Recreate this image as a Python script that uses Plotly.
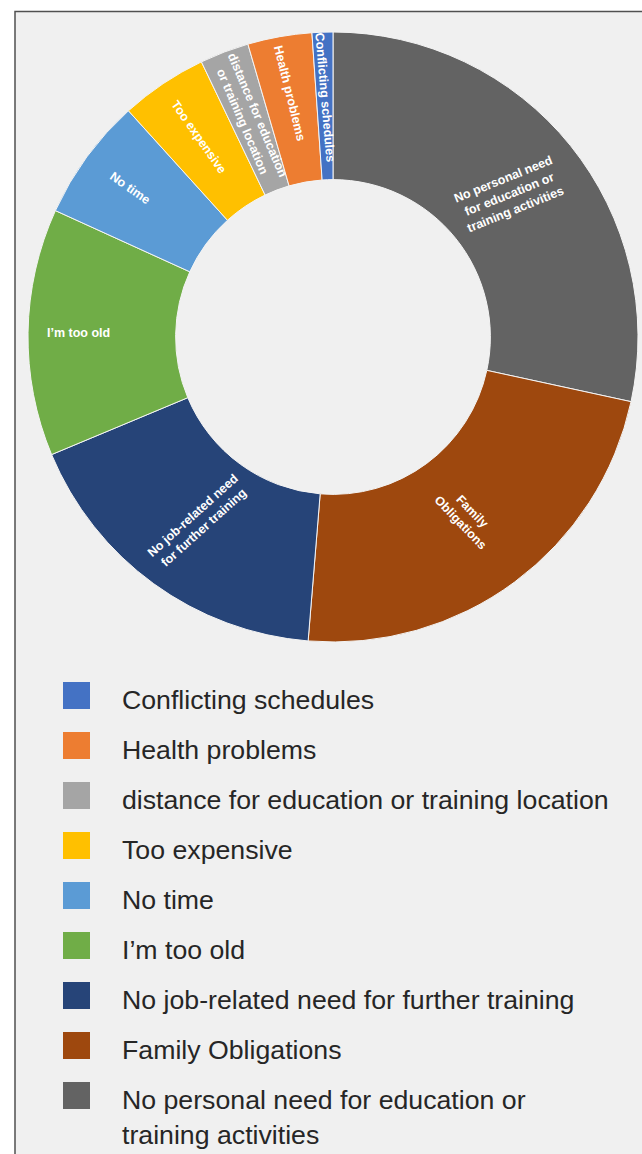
import math

import plotly.graph_objects as go

# categories, in legend order (on the ring they run counter-clockwise from 12 o'clock)
labels = [
    "Conflicting schedules",
    "Health problems",
    "distance for education or training location",
    "Too expensive",
    "No time",
    "I’m too old",
    "No job-related need for further training",
    "Family Obligations",
    "No personal need for education or training activities",
]
slice_text = [
    "Conflicting schedules",
    "Health problems",
    "distance for education<br>or training location",
    "Too expensive",
    "No time",
    "I’m too old",
    "No job-related need<br>for further training",
    "Family<br>Obligations",
    "No personal need<br>for education or<br>training activities",
]
legend_text = [
    "Conflicting schedules",
    "Health problems",
    "distance for education or training location",
    "Too expensive",
    "No time",
    "I’m too old",
    "No job-related need for further training",
    "Family Obligations",
    "No personal need for education or<br>training activities",
]
shares = [1.1, 3.4, 2.6, 4.6, 6.5, 13.1, 17.4, 22.9, 28.4]
colors = [
    "#4472C4", "#ED7D31", "#A5A5A5", "#FFC000", "#5B9BD5",
    "#70AD47", "#264478", "#9E480E", "#636363",
]
# white slice labels: rotation (degrees, clockwise) and distance from centre (px)
label_rotation = [85, 76, 67, 55, 35, 0, -42, 46, -22]
label_radius = [240, 248, 234, 241, 252, 255, 228, 224, 227]

W, H = 642, 1154
BG = "#f0f0f0"
FONT = "Arial, Liberation Sans, sans-serif"

# donut geometry (pixels)
cx, cy, r = 333, 337, 305
hole = 0.516

fig = go.Figure()

# drawn clockwise from 12 o'clock with the order reversed, so the first
# legend entry sits just left of the top
fig.add_trace(
    go.Pie(
        labels=labels[::-1],
        values=shares[::-1],
        textinfo="none",
        sort=False,
        direction="clockwise",
        rotation=0,
        hole=hole,
        marker={"colors": colors[::-1], "line": {"color": "#f4f4f4", "width": 1}},
        domain={
            "x": [(cx - r) / W, (cx + r) / W],
            "y": [(H - cy - r) / H, (H - cy + r) / H],
        },
        showlegend=False,
        hoverinfo="label+percent",
    )
)

annotations = []

# slice labels, placed at the middle angle of each slice
total = sum(shares)
cum = 0.0
for txt, v, rot, rt in zip(slice_text, shares, label_rotation, label_radius):
    mid = 360 - (cum + v / 2) / total * 360  # clockwise from 12 o'clock
    cum += v
    a = math.radians(mid)
    px_ = cx + rt * math.sin(a)
    py_ = cy - rt * math.cos(a)
    annotations.append(
        dict(
            x=px_ / W,
            y=1 - py_ / H,
            xref="paper",
            yref="paper",
            text=txt,
            showarrow=False,
            textangle=rot,
            xanchor="center",
            yanchor="middle",
            font={"family": FONT, "size": 12.5, "color": "white", "weight": "bold"},
        )
    )

# hand-drawn legend: big squares, one row per category
row0, pitch = 695.5, 50
n = len(labels)
fig.add_trace(
    go.Scatter(
        x=[0] * n,
        y=list(range(n)),
        mode="markers",
        marker={"symbol": "square", "size": 27, "color": colors, "line": {"width": 0}},
        xaxis="x2",
        yaxis="y2",
        showlegend=False,
        hoverinfo="skip",
    )
)

for i, t in enumerate(legend_text):
    annotations.append(
        dict(
            x=0,
            y=i,
            xref="x2",
            yref="y2",
            text=t,
            showarrow=False,
            xanchor="left",
            yanchor="top",
            align="left",
            xshift=43,
            yshift=13,
            font={"family": FONT, "size": 26.7, "color": "#262626"},
        )
    )

top_px = row0 - pitch / 2
bot_px = row0 + pitch * (n - 0.5)

fig.update_layout(
    width=W,
    height=H,
    margin={"l": 0, "r": 0, "t": 0, "b": 0},
    paper_bgcolor="white",
    plot_bgcolor="rgba(0,0,0,0)",
    xaxis2={
        "domain": [0, 1],
        "range": [-76.5, W - 76.5],
        "visible": False,
        "fixedrange": True,
        "anchor": "y2",
    },
    yaxis2={
        "domain": [(H - bot_px) / H, (H - top_px) / H],
        "range": [n - 0.5, -0.5],
        "visible": False,
        "fixedrange": True,
        "anchor": "x2",
    },
    annotations=annotations,
    shapes=[
        dict(
            type="rect",
            xref="paper",
            yref="paper",
            x0=15 / W,
            x1=1.05,
            y0=-0.05,
            y1=1 - 11.5 / H,
            fillcolor=BG,
            line={"color": "#505050", "width": 1.5},
            layer="below",
        )
    ],
)

fig.write_html(
    "out.html",
    config={"displayModeBar": False},
    post_script="document.body.style.margin='0';document.body.style.overflow='hidden';",
)
